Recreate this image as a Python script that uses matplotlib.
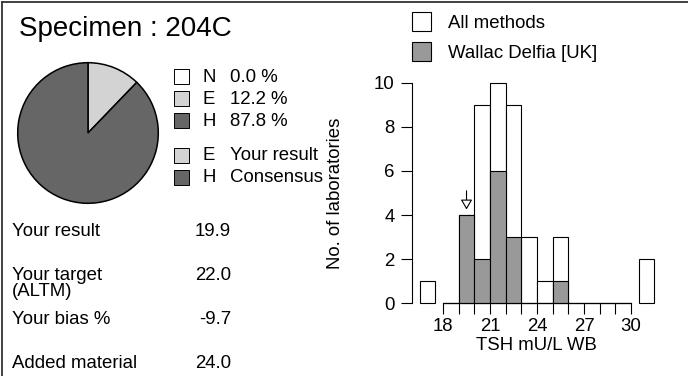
import numpy as np
import matplotlib
matplotlib.use('Agg')
import matplotlib.pyplot as plt
from matplotlib.patches import Rectangle

plt.rcParams['font.family'] = ['Liberation Sans', 'DejaVu Sans']

W, H = 688, 376

specimen = '204C'

# pie: N / E / H percentages
pie_labels = ['N', 'E', 'H']
pie_values = [0.0, 12.2, 87.8]
pie_colors = ['white', '#d3d3d3', '#666666']
your_class = 'E'
consensus_class = 'H'

# summary rows
row_names = ['Your result', 'Your target\n(ALTM)', 'Your bias %', 'Added material']
row_values = ['19.9', '22.0', '-9.7', '24.0']
your_result = 19.9

# histogram (bin left edges, width 1)
bin_left = [18, 19, 20, 21, 22, 23, 24, 25, 26, 27, 28, 29]
all_counts = [0, 4, 9, 10, 9, 3, 1, 3, 0, 0, 0, 0]
method_counts = [0, 4, 2, 6, 3, 0, 0, 1, 0, 0, 0, 0]
low_out, high_out = 1, 2
method_name = 'Wallac Delfia [UK]'

fs = 13.4
grey = '#999999'


def fx(x):
    return x / W


def fy(y):
    return 1 - y / H


fig = plt.figure(figsize=(W / 100, H / 100), dpi=100)

# overlay in pixel coordinates for text and legends
ov = fig.add_axes([0, 0, 1, 1])
ov.set_xlim(0, W)
ov.set_ylim(H, 0)
ov.axis('off')

ov.plot([2, 2], [2, H + 5], c='#333333', lw=1.3, clip_on=False)
ov.plot([2, W + 5], [2, 2], c='#333333', lw=1.3, clip_on=False)

ov.text(19, 29, 'Specimen : ' + specimen, fontsize=20, va='center', ha='left')

# pie
pa = fig.add_axes([fx(17), fy(204), fx(142), 142 / H])
pa.pie(pie_values, colors=pie_colors, startangle=90, counterclock=False,
       wedgeprops=dict(edgecolor='black', linewidth=1.1))
pa.set_xlim(-1.01, 1.01)
pa.set_ylim(-1.01, 1.01)
pa.set_aspect('equal')

# pie legend
ys = [76, 98, 120]
for lab, val, col, y in zip(pie_labels, pie_values, pie_colors, ys):
    ov.add_patch(Rectangle((174, y - 7.5), 15, 15, fc=col, ec='black', lw=0.7))
    ov.text(203, y + 1, lab, fontsize=fs, va='center')
    ov.text(230, y + 1, '%.1f %%' % val, fontsize=fs, va='center')

for cls, txt, y in [(your_class, 'Your result', 155), (consensus_class, 'Consensus', 177)]:
    col = pie_colors[pie_labels.index(cls)]
    ov.add_patch(Rectangle((174, y - 7.5), 15, 15, fc=col, ec='black', lw=0.7))
    ov.text(203, y + 1, cls, fontsize=fs, va='center')
    ov.text(230, y + 1, txt, fontsize=fs, va='center')

# summary rows
for i, (name, val) in enumerate(zip(row_names, row_values)):
    y = 232 + 44 * i
    ov.text(12, y - 9, name, fontsize=fs, va='top', ha='left', linespacing=0.95)
    ov.text(231, y - 9, val, fontsize=fs, va='top', ha='right')

# histogram
ax = fig.add_axes([fx(411.7), fy(303.3), fx(662.3 - 411.7), 10.3 * 22.06 / H])
ax.set_xlim(16, 32)
ax.set_ylim(0, 10.3)
ax.bar(bin_left, all_counts, width=1, align='edge', color='white',
       edgecolor='black', linewidth=0.8, clip_on=False)
ax.bar(bin_left, method_counts, width=1, align='edge', color=grey,
       edgecolor='black', linewidth=0.8, clip_on=False)
ax.bar([16.5, 30.5], [low_out, high_out], width=1, align='edge', color='white',
       edgecolor='black', linewidth=0.8, clip_on=False)

# arrow over the bin holding the lab's own result
xr = np.floor(your_result) + 0.5
ax.annotate('', xy=(xr, 4.25), xytext=(xr, 5.1),
            arrowprops=dict(arrowstyle='-|>,head_length=0.6,head_width=0.35',
                            fc='white', ec='black', lw=0.8,
                            mutation_scale=10, shrinkA=0, shrinkB=0))

for s in ['top', 'right']:
    ax.spines[s].set_visible(False)
ax.spines['left'].set_bounds(0, 10)
ax.spines['bottom'].set_bounds(18, 30)
ax.spines['left'].set_linewidth(0.8)
ax.spines['bottom'].set_linewidth(0.8)
ax.set_yticks([0, 2, 4, 6, 8, 10])
ax.set_xticks(range(18, 31))
ax.set_xticklabels([str(v) if v % 3 == 0 else '' for v in range(18, 31)])
ax.tick_params(axis='y', length=8.2, width=0.8, labelsize=fs, pad=4)
ax.tick_params(axis='x', length=7.6, width=0.8, labelsize=fs, pad=3)
ax.patch.set_alpha(0)

ov.text(536, 346, 'TSH mU/L WB', fontsize=fs, ha='center', va='center')
ov.text(335, 193, 'No. of laboratories', fontsize=fs, ha='center', va='center',
        rotation=90)

# histogram legend
ov.add_patch(Rectangle((411.7, 12), 19, 19, fc='white', ec='black', lw=0.8))
ov.add_patch(Rectangle((411.7, 42), 19, 19, fc=grey, ec='black', lw=0.8))
ov.text(448, 23, 'All methods', fontsize=fs, va='center')
ov.text(448, 53, method_name, fontsize=fs, va='center')

fig.savefig('out.png', dpi=100)
